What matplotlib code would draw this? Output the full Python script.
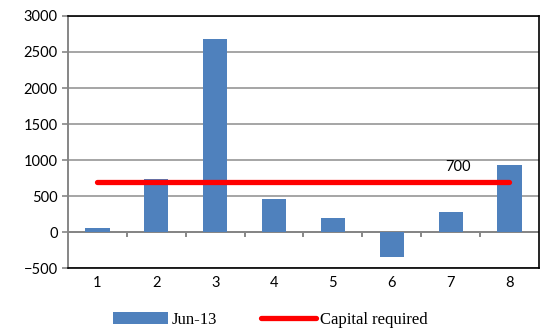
import matplotlib.pyplot as plt
import numpy as np
from matplotlib.patches import Patch
from matplotlib.lines import Line2D

periods = [1, 2, 3, 4, 5, 6, 7, 8]
jun13 = [60, 740, 2680, 465, 200, -345, 275, 925]
capital_required = [700] * 8
capital_label = '700'

fig = plt.figure(figsize=(5.4, 3.33), dpi=100)
ax = fig.add_axes([0.126, 0.195, 0.872, 0.757])

x = np.array(periods)
ax.bar(x, jun13, 0.41, color='#4f81bd', zorder=3)
ax.plot(x, capital_required, color='#ff0000', linewidth=3.8,
        solid_capstyle='round', zorder=4)
ax.text(7.12, capital_required[6] + 110, capital_label, ha='center',
        va='bottom', fontsize=10.5, family='Lato', zorder=5)

ax.set_xlim(0.5, 8.5)
ax.set_ylim(-500, 3000)
ax.set_yticks(np.arange(-500, 3001, 500))
ax.set_xticks(x)
ax.set_xticklabels([str(p) for p in periods], family='Lato', fontsize=10.5)
for lbl in ax.get_yticklabels():
    lbl.set_family('Lato')
    lbl.set_fontsize(10.5)
ax.tick_params(axis='x', length=0, pad=6)
ax.tick_params(axis='y', length=4, color='#868686', width=1.2)

ax.yaxis.grid(True, color='#969696', linewidth=1.2, zorder=0)

# horizontal axis line at zero with ticks between categories
ax.axhline(0, color='#868686', linewidth=1.4, zorder=2)
for b in np.arange(1.5, 8.0, 1.0):
    ax.plot([b, b], [0, -60], color='#868686', linewidth=1.4, zorder=2)

ax.spines['left'].set_color('#868686')
ax.spines['left'].set_linewidth(1.4)
for s in ('top', 'right', 'bottom'):
    ax.spines[s].set_color('black')
    ax.spines[s].set_linewidth(1.2)

handles = [Patch(facecolor='#4f81bd', edgecolor='none'),
           Line2D([0], [0], color='#ff0000', linewidth=3.8, solid_capstyle='round')]
fig.legend(handles, ['Jun-13', 'Capital required'], loc='center',
           bbox_to_anchor=(0.5, 0.04), ncol=2, frameon=False,
           prop={'family': 'Liberation Serif', 'size': 12},
           handlelength=3.3, handleheight=0.8, columnspacing=2.6,
           handletextpad=0.25)

plt.savefig('out.png', dpi=100)
